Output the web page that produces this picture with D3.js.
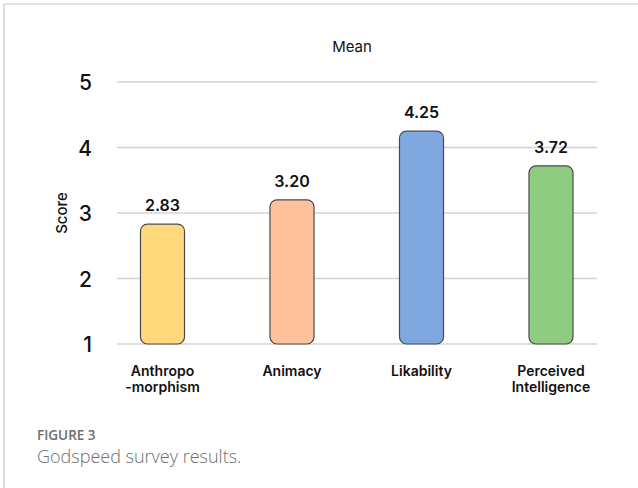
<!DOCTYPE html>
<html>
<head>
<meta charset="utf-8">
<script src="https://cdn.jsdelivr.net/npm/d3@7"></script>
<style>
  html, body { margin: 0; padding: 0; background: #fff; }
  svg { display: block; }
</style>
</head>
<body>
<svg id="chart" width="638" height="488"></svg>
<script>
// Godspeed questionnaire: mean score per dimension
const categories = ["Anthropo\n-morphism", "Animacy", "Likability", "Perceived\nIntelligence"];
const means = [2.83, 3.20, 4.25, 3.72];
const barColors = ["#FFD97C", "#FDC19C", "#80A8E0", "#90CB82"];
const yTicks = [1, 2, 3, 4, 5];

const svg = d3.select("#chart");
const W = 638, H = 488;

// thin frame along the top and left edges
svg.append("line").attr("x1", 4).attr("x2", W).attr("y1", 4).attr("y2", 4)
  .attr("stroke", "#c8c8c8").attr("stroke-width", 1.2);
svg.append("line").attr("x1", 4).attr("x2", 4).attr("y1", 4).attr("y2", H)
  .attr("stroke", "#c8c8c8").attr("stroke-width", 1.2);

const step = 129.5;
const x = d3.scaleBand().domain(categories)
  .range([162.5 - step / 2, 162.5 + step * 3.5])
  .paddingInner(0.66).paddingOuter(0.33);
const y = d3.scaleLinear().domain([1, 5]).range([344, 82]);

const font = "Inter, 'Noto Sans', Roboto, sans-serif";

// gridlines
svg.append("g").selectAll("line").data(yTicks).join("line")
  .attr("x1", 117).attr("x2", 597)
  .attr("y1", d => y(d)).attr("y2", d => y(d))
  .attr("stroke", "#d4d4d4").attr("stroke-width", 1.5);

// y axis tick labels
const yAxis = d3.axisLeft(y).tickValues(yTicks).tickSize(0).tickPadding(0).tickFormat(d3.format("d"));
const gy = svg.append("g").attr("transform", "translate(92,0)").call(yAxis);
gy.select(".domain").remove();
gy.selectAll("text")
  .attr("font-family", font).attr("font-size", 21).attr("font-weight", 500)
  .attr("fill", "#111").attr("text-anchor", "end").attr("dy", "0.36em");

// y axis title
svg.append("text")
  .attr("transform", "translate(67,213) rotate(-90)")
  .attr("text-anchor", "middle")
  .attr("font-family", font).attr("font-size", 15).attr("font-weight", 500)
  .attr("fill", "#111").text("Score");

// chart title
svg.append("text").attr("x", 352).attr("y", 52).attr("text-anchor", "middle")
  .attr("font-family", font).attr("font-size", 15).attr("fill", "#111").text("Mean");

// bars
svg.append("g").selectAll("rect").data(means).join("rect")
  .attr("x", (d, i) => x(categories[i]))
  .attr("y", d => y(d))
  .attr("width", x.bandwidth())
  .attr("height", d => y(1) - y(d))
  .attr("rx", 7).attr("ry", 7)
  .attr("fill", (d, i) => barColors[i])
  .attr("stroke", "#4a4a4a").attr("stroke-width", 1.2);

// value labels
svg.append("g").selectAll("text").data(means).join("text")
  .attr("x", (d, i) => x(categories[i]) + x.bandwidth() / 2)
  .attr("y", d => y(d) - 13)
  .attr("text-anchor", "middle")
  .attr("font-family", font).attr("font-size", 16).attr("font-weight", 600)
  .attr("fill", "#111")
  .text(d => d.toFixed(2));

// category labels (x axis)
const xAxis = d3.axisBottom(x).tickSize(0).tickPadding(0);
const gx = svg.append("g").attr("transform", "translate(0,365)").call(xAxis);
gx.select(".domain").remove();
gx.selectAll("text").each(function(d) {
  const t = d3.select(this).text("")
    .attr("font-family", font).attr("font-size", 14).attr("font-weight", 600)
    .attr("fill", "#111").attr("dy", null).attr("y", 11);
  d.split("\n").forEach((line, j) => {
    t.append("tspan").attr("x", 0).attr("dy", j === 0 ? 0 : 16).text(line);
  });
});

// caption
svg.append("text").attr("x", 37).attr("y", 440)
  .attr("font-family", "'Open Sans', 'Noto Sans', sans-serif").attr("font-size", 13.5)
  .attr("font-weight", 600).attr("fill", "#6e6e6e").text("FIGURE 3");
svg.append("text").attr("x", 37).attr("y", 463)
  .attr("font-family", "'Open Sans', 'Noto Sans', sans-serif").attr("font-size", 18)
  .attr("font-weight", 300).attr("fill", "#6e6e6e").text("Godspeed survey results.");
</script>
</body>
</html>
